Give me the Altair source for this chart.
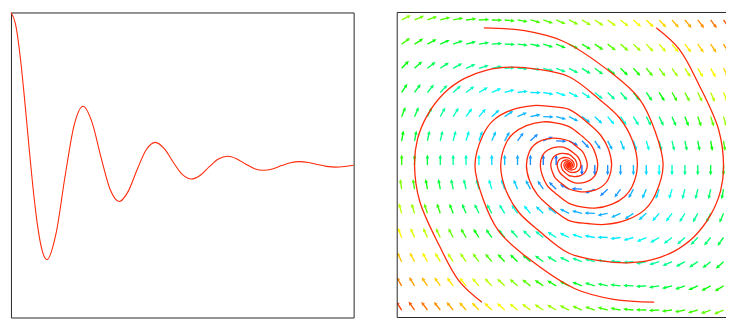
import altair as alt
import pandas as pd

# ---------------- Left panel: damped oscillation ----------------
t_vals = [0.0, 0.125, 0.25, 0.375, 0.5, 0.625, 0.75, 0.875, 1.0,
          1.25, 1.5, 1.75, 2.0, 2.25, 2.5, 2.75, 3.0, 3.25, 3.5, 3.75, 4.0,
          4.25, 4.5, 4.75, 5.0, 5.25, 5.5, 5.75, 6.0, 6.25, 6.5, 6.75, 7.0,
          7.25, 7.5, 7.75, 8.0, 8.25, 8.5, 8.75, 9.0, 9.25, 9.5]
x_vals = [1.000, 0.925, 0.723, 0.437, 0.120, -0.180, -0.419, -0.570, -0.620,
          -0.449, -0.074, 0.260, 0.385, 0.278, 0.046, -0.161, -0.239, -0.173, -0.029, 0.100, 0.148,
          0.107, 0.018, -0.062, -0.092, -0.067, -0.011, 0.039, 0.057, 0.041, 0.007, -0.024, -0.035,
          -0.026, -0.004, 0.015, 0.022, 0.016, 0.003, -0.009, -0.014, -0.010, -0.002]

# ---------------- Right panel: vector field grid ----------------
grid_x = [-1.69, -1.56, -1.43, -1.30, -1.17, -1.04, -0.91, -0.78, -0.65, -0.52, -0.39, -0.26, -0.13,
          0.0, 0.13, 0.26, 0.39, 0.52, 0.65, 0.78, 0.91, 1.04, 1.17, 1.30, 1.43, 1.56, 1.69]
grid_y = [1.512, 1.26, 1.008, 0.756, 0.504, 0.252, 0.0, -0.252, -0.504, -0.756, -1.008, -1.26, -1.512]
u_rows = [12.8, 10.7, 8.5, 6.4, 4.3, 2.1, 0.0, -2.1, -4.3, -6.4, -8.5, -10.7, -12.8]
v_rows = [
    [6.6, 5.6, 4.6, 3.6, 2.6, 1.6, 0.6, -0.4, -1.4, -2.4, -3.4, -4.4, -5.4, -6.4, -7.4, -8.4, -9.4, -10.4, -11.4, -12.4, -13.4, -14.4, -15.4, -16.4, -17.4, -18.4, -19.4],
    [7.7, 6.7, 5.7, 4.7, 3.7, 2.7, 1.7, 0.7, -0.3, -1.3, -2.3, -3.3, -4.3, -5.3, -6.3, -7.3, -8.3, -9.3, -10.3, -11.3, -12.3, -13.3, -14.3, -15.3, -16.3, -17.3, -18.3],
    [8.7, 7.7, 6.7, 5.7, 4.7, 3.7, 2.7, 1.7, 0.7, -0.3, -1.3, -2.3, -3.3, -4.3, -5.3, -6.3, -7.3, -8.3, -9.3, -10.3, -11.3, -12.3, -13.3, -14.3, -15.3, -16.3, -17.3],
    [9.8, 8.8, 7.8, 6.8, 5.8, 4.8, 3.8, 2.8, 1.8, 0.8, -0.2, -1.2, -2.2, -3.2, -4.2, -5.2, -6.2, -7.2, -8.2, -9.2, -10.2, -11.2, -12.2, -13.2, -14.2, -15.2, -16.2],
    [10.9, 9.9, 8.9, 7.9, 6.9, 5.9, 4.9, 3.9, 2.9, 1.9, 0.9, -0.1, -1.1, -2.1, -3.1, -4.1, -5.1, -6.1, -7.1, -8.1, -9.1, -10.1, -11.1, -12.1, -13.1, -14.1, -15.1],
    [11.9, 10.9, 9.9, 8.9, 7.9, 6.9, 5.9, 4.9, 3.9, 2.9, 1.9, 0.9, -0.1, -1.1, -2.1, -3.1, -4.1, -5.1, -6.1, -7.1, -8.1, -9.1, -10.1, -11.1, -12.1, -13.1, -14.1],
    [13, 12, 11, 10, 9, 8, 7, 6, 5, 4, 3, 2, 1, 0, -1, -2, -3, -4, -5, -6, -7, -8, -9, -10, -11, -12, -13],
    [14.1, 13.1, 12.1, 11.1, 10.1, 9.1, 8.1, 7.1, 6.1, 5.1, 4.1, 3.1, 2.1, 1.1, 0.1, -0.9, -1.9, -2.9, -3.9, -4.9, -5.9, -6.9, -7.9, -8.9, -9.9, -10.9, -11.9],
    [15.1, 14.1, 13.1, 12.1, 11.1, 10.1, 9.1, 8.1, 7.1, 6.1, 5.1, 4.1, 3.1, 2.1, 1.1, 0.1, -0.9, -1.9, -2.9, -3.9, -4.9, -5.9, -6.9, -7.9, -8.9, -9.9, -10.9],
    [16.2, 15.2, 14.2, 13.2, 12.2, 11.2, 10.2, 9.2, 8.2, 7.2, 6.2, 5.2, 4.2, 3.2, 2.2, 1.2, 0.2, -0.8, -1.8, -2.8, -3.8, -4.8, -5.8, -6.8, -7.8, -8.8, -9.8],
    [17.3, 16.3, 15.3, 14.3, 13.3, 12.3, 11.3, 10.3, 9.3, 8.3, 7.3, 6.3, 5.3, 4.3, 3.3, 2.3, 1.3, 0.3, -0.7, -1.7, -2.7, -3.7, -4.7, -5.7, -6.7, -7.7, -8.7],
    [18.3, 17.3, 16.3, 15.3, 14.3, 13.3, 12.3, 11.3, 10.3, 9.3, 8.3, 7.3, 6.3, 5.3, 4.3, 3.3, 2.3, 1.3, 0.3, -0.7, -1.7, -2.7, -3.7, -4.7, -5.7, -6.7, -7.7],
    [19.4, 18.4, 17.4, 16.4, 15.4, 14.4, 13.4, 12.4, 11.4, 10.4, 9.4, 8.4, 7.4, 6.4, 5.4, 4.4, 3.4, 2.4, 1.4, 0.4, -0.6, -1.6, -2.6, -3.6, -4.6, -5.6, -6.6],
]
mag_stops = [0, 3.5, 6.3, 8.4, 11.0, 13.0, 14.4, 17.2, 20.2, 23.3]
mag_colors = ["#1450ff", "#1e9bff", "#00e1ff", "#00ffb0", "#00ff44",
              "#33ff00", "#8cff00", "#ffff00", "#ffa000", "#ff3c00"]

# ---------------- Right panel: trajectories ----------------
A_x = [-0.86, -0.45, -0.06, 0.44, 0.71, 0.87, 0.95, 0.87, 0.77, 0.59, 0.36, 0.19, 0.0, -0.20, -0.32, -0.40, -0.43,
       -0.40, -0.35, -0.27, -0.16, -0.09, 0.0, 0.085, 0.14, 0.17, 0.185, 0.17, 0.15, 0.115, 0.07, 0.037, 0.0,
       -0.037, -0.06, -0.074, -0.08, -0.065, -0.03, 0.0, 0.026, 0.035, 0.028, 0.013, 0.0, -0.012, -0.015,
       -0.006, 0.0, 0.005, 0.0065]
A_y = [1.43, 1.40, 1.29, 0.95, 0.69, 0.35, 0.0, -0.31, -0.46, -0.57, -0.62, -0.61, -0.58, -0.43, -0.31, -0.16, 0.0,
       0.14, 0.21, 0.26, 0.28, 0.275, 0.25, 0.185, 0.134, 0.068, 0.0, -0.06, -0.09, -0.11, -0.12, -0.118, -0.11,
       -0.081, -0.059, -0.03, 0.0, 0.038, 0.052, 0.047, 0.025, 0.0, -0.017, -0.023, -0.021, -0.011, 0.0,
       0.01, 0.009, 0.0045, 0.0]
C_x = [0.86, 0.45, 0.06, -0.44, -0.71, -0.87, -0.95, -0.87, -0.77, -0.59, -0.36, -0.19, 0.0, 0.20, 0.32, 0.40, 0.43,
       0.40, 0.35, 0.27, 0.16, 0.09, 0.0, -0.085, -0.14, -0.17, -0.185, -0.17, -0.15, -0.115, -0.07, -0.037, 0.0,
       0.037, 0.06, 0.074, 0.08, 0.065, 0.03, 0.0, -0.026, -0.035, -0.028, -0.013, 0.0, 0.012, 0.015,
       0.006, 0.0, -0.005, -0.0065]
C_y = [-1.43, -1.40, -1.29, -0.95, -0.69, -0.35, 0.0, 0.31, 0.46, 0.57, 0.62, 0.61, 0.58, 0.43, 0.31, 0.16, 0.0,
       -0.14, -0.21, -0.26, -0.28, -0.275, -0.25, -0.185, -0.134, -0.068, 0.0, 0.06, 0.09, 0.11, 0.12, 0.118, 0.11,
       0.081, 0.059, 0.03, 0.0, -0.038, -0.052, -0.047, -0.025, 0.0, 0.017, 0.023, 0.021, 0.011, 0.0,
       -0.01, -0.009, -0.0045, 0.0]
D_x = [-0.88, -1.11, -1.31, -1.51, -1.56, -1.53, -1.43, -1.26, -1.06, -0.83, -0.59, -0.33, 0.0, 0.31, 0.51, 0.64, 0.69,
       0.635, 0.56, 0.43, 0.26, 0.14, 0.0, -0.136, -0.22, -0.27, -0.29, -0.27, -0.235, -0.18, -0.11, -0.058, 0.0,
       0.054, 0.088, 0.11, 0.12, 0.11, 0.097, 0.074, 0.046, 0.024, 0.0, -0.024, -0.039, -0.048, -0.052,
       -0.042, -0.02, 0.0, 0.016, 0.023, 0.018, 0.009, 0.0, -0.008, -0.01, -0.004, 0.0]
D_y = [-1.43, -1.21, -0.84, -0.37, 0.0, 0.27, 0.52, 0.75, 0.90, 0.99, 1.02, 1.00, 0.92, 0.68, 0.49, 0.255, 0.0,
       -0.23, -0.33, -0.41, -0.45, -0.44, -0.40, -0.296, -0.214, -0.107, 0.0, 0.096, 0.14, 0.174, 0.189, 0.186, 0.16,
       0.118, 0.086, 0.044, 0.0, -0.04, -0.058, -0.072, -0.078, -0.077, -0.07, -0.052, -0.037, -0.019, 0.0,
       0.025, 0.034, 0.03, 0.016, 0.0, -0.011, -0.015, -0.0135, -0.007, 0.0, 0.0065, 0.006]
B_x = [0.88, 1.11, 1.31, 1.51, 1.56, 1.53, 1.43, 1.26, 1.06, 0.83, 0.59, 0.33, 0.0, -0.31, -0.51, -0.64, -0.69,
       -0.635, -0.56, -0.43, -0.26, -0.14, 0.0, 0.136, 0.22, 0.27, 0.29, 0.27, 0.235, 0.18, 0.11, 0.058, 0.0,
       -0.054, -0.088, -0.11, -0.12, -0.11, -0.097, -0.074, -0.046, -0.024, 0.0, 0.024, 0.039, 0.048, 0.052,
       0.042, 0.02, 0.0, -0.016, -0.023, -0.018, -0.009, 0.0, 0.008, 0.01, 0.004, 0.0]
B_y = [1.43, 1.21, 0.84, 0.37, 0.0, -0.27, -0.52, -0.75, -0.90, -0.99, -1.02, -1.00, -0.92, -0.68, -0.49, -0.255, 0.0,
       0.23, 0.33, 0.41, 0.45, 0.44, 0.40, 0.296, 0.214, 0.107, 0.0, -0.096, -0.14, -0.174, -0.189, -0.186, -0.16,
       -0.118, -0.086, -0.044, 0.0, 0.04, 0.058, 0.072, 0.078, 0.077, 0.07, 0.052, 0.037, 0.019, 0.0,
       -0.025, -0.034, -0.03, -0.016, 0.0, 0.011, 0.015, 0.0135, 0.007, 0.0, -0.0065, -0.006]

# ---------------- Build tables ----------------
curve_df = pd.DataFrame({"t": t_vals, "x": x_vals})

arrow_records = []
for yv, u, vrow in zip(grid_y, u_rows, v_rows):
    for xv, v in zip(grid_x, vrow):
        if u == 0 and v == 0:
            continue
        arrow_records.append({"x": xv, "y": yv, "u": u, "v": v})
arrow_df = pd.DataFrame(arrow_records)

traj_records = []
for name, xs, ys in [("A", A_x, A_y), ("B", B_x, B_y), ("C", C_x, C_y), ("D", D_x, D_y)]:
    for k, (xv, yv) in enumerate(zip(xs, ys)):
        traj_records.append({"traj": name, "idx": k, "x": xv, "y": yv})
traj_df = pd.DataFrame(traj_records)

W_L, W_R, H = 346, 332, 308
RED = "#ff2a0a"
BORDER = "#262626"

left = alt.Chart(curve_df).mark_line(
    interpolate="monotone", color=RED, strokeWidth=1.1
).encode(
    x=alt.X("t:Q", scale=alt.Scale(domain=[0, 9.5], nice=False, zero=False), axis=None),
    y=alt.Y("x:Q", scale=alt.Scale(domain=[-1, 1], nice=False, zero=False), axis=None),
).properties(width=W_L, height=H)

# right panel keeps 100 px per unit horizontally; the reference is cut by the window edge
xs_scale = alt.Scale(domain=[-1.735, -1.735 + W_R / 100.0], nice=False, zero=False)
ys_scale = alt.Scale(domain=[-1.59, 1.59], nice=False, zero=False)

ARROW = "M-0.065,0 L0.065,0 L0.065,-0.64 L0.18,-0.6 L0,-1 L-0.18,-0.6 L-0.065,-0.64 Z"

arrows = alt.Chart(arrow_df).transform_calculate(
    angle="(450 - atan2(datum.v, datum.u) * 180 / PI) % 360",
    mag="sqrt(datum.u * datum.u + datum.v * datum.v)",
).mark_point(
    shape=ARROW, size=441, filled=True, opacity=1, strokeWidth=0, clip=True
).encode(
    x=alt.X("x:Q", scale=xs_scale, axis=None),
    y=alt.Y("y:Q", scale=ys_scale, axis=None),
    angle=alt.Angle("angle:Q", scale=None),
    color=alt.Color("mag:Q", scale=alt.Scale(domain=mag_stops, range=mag_colors, interpolate="hsl"), legend=None),
)

spirals = alt.Chart(traj_df).mark_line(
    interpolate="catmull-rom", color=RED, strokeWidth=1.3, clip=True
).encode(
    x=alt.X("x:Q", scale=xs_scale, axis=None),
    y=alt.Y("y:Q", scale=ys_scale, axis=None),
    detail="traj:N",
    order="idx:Q",
)

one = alt.Data(values=[{"k": 0}])
border_left = alt.Chart(one).mark_rule(color=BORDER, strokeWidth=1).encode(
    x=alt.value(0), y=alt.value(0), y2=alt.value(H))
border_top = alt.Chart(one).mark_rule(color=BORDER, strokeWidth=1).encode(
    x=alt.value(0), x2=alt.value(W_R), y=alt.value(0))
border_bottom = alt.Chart(one).mark_rule(color=BORDER, strokeWidth=1).encode(
    x=alt.value(0), x2=alt.value(W_R), y=alt.value(H))

right = alt.layer(arrows, spirals, border_left, border_top, border_bottom).properties(
    width=W_R, height=H, view=alt.ViewBackground(strokeOpacity=0)
)

chart = alt.hconcat(left, right, spacing=40).properties(padding=0).configure_view(
    stroke=BORDER, strokeWidth=1
)

chart.save("out.html", embed_options={"renderer": "svg", "actions": False})
